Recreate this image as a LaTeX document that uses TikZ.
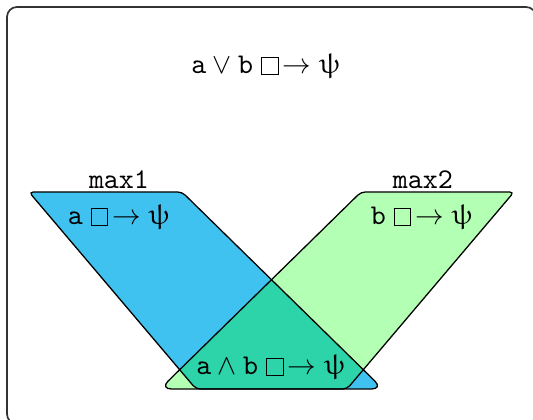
\documentclass[tikz,border=0pt]{standalone}
\usepackage{amsmath}
\usepackage{upgreek}
\usepackage{tikz}

\definecolor{maxblue}{RGB}{64,194,240}
\definecolor{maxgreen}{RGB}{179,255,179}
\definecolor{maxboth}{RGB}{45,212,170}

% box-arrow, drawn as a framed square plus an arrow
\newcommand{\cfbox}{{\setlength{\fboxsep}{0pt}\setlength{\fboxrule}{0.35pt}%
	\raisebox{-0.2pt}{\framebox{\rule{0pt}{5.4pt}\hspace{5.4pt}}}}}
\newcommand{\cfarrow}{\mathrel{\text{\cfbox}\mkern-2.5mu\rightarrow}}

% the two regions, in pixel units
\def\maxone{(29,192) [rounded corners=1.5pt] -- (182,192) [rounded corners=4pt] -- (383,389) [rounded corners=1.5pt] -- (196,389) -- cycle}
\def\maxtwo{(514,192) [rounded corners=1.5pt] -- (361,192) [rounded corners=4pt] -- (160,389) [rounded corners=1.5pt] -- (347,389) -- cycle}

\begin{document}
\begin{tikzpicture}[
				x=0.35pt, y=-0.35pt,
				region line/.style={draw=black, line width=0.45pt},
				frame line/.style={draw=black!80, line width=0.6pt, rounded corners=3.5pt},
				text style/.style={inner sep=1pt, font=\normalsize}
				]
				
				\useasboundingbox (0,0) rectangle (533,420);
				\draw[frame line] (7,7) rectangle (536,424);
				
				\fill[maxblue] \maxone;
				\fill[maxgreen] \maxtwo;
				\begin{scope}
					\clip \maxone;
					\fill[maxboth] \maxtwo;
				\end{scope}
				\draw[region line] \maxone;
				\draw[region line] \maxtwo;
				
				\node[text style] (top) at (266,66) 
				{$\texttt{a} \vee \texttt{b} \cfarrow \uppsi$};
				
				\node[text style] (name1) at (119,180) {\texttt{max1}};
				\node[text style] (rule1) at (119,217) 
				{$\texttt{a} \cfarrow \uppsi$};
				
				\node[text style] (name2) at (423,180) {\texttt{max2}};
				\node[text style] (rule2) at (422,217) 
				{$\texttt{b} \cfarrow \uppsi$};
				
				\node[text style] (both) at (271,367) 
				{$\texttt{a} \wedge \texttt{b} \cfarrow \uppsi$};
				
			\end{tikzpicture}
\end{document}
